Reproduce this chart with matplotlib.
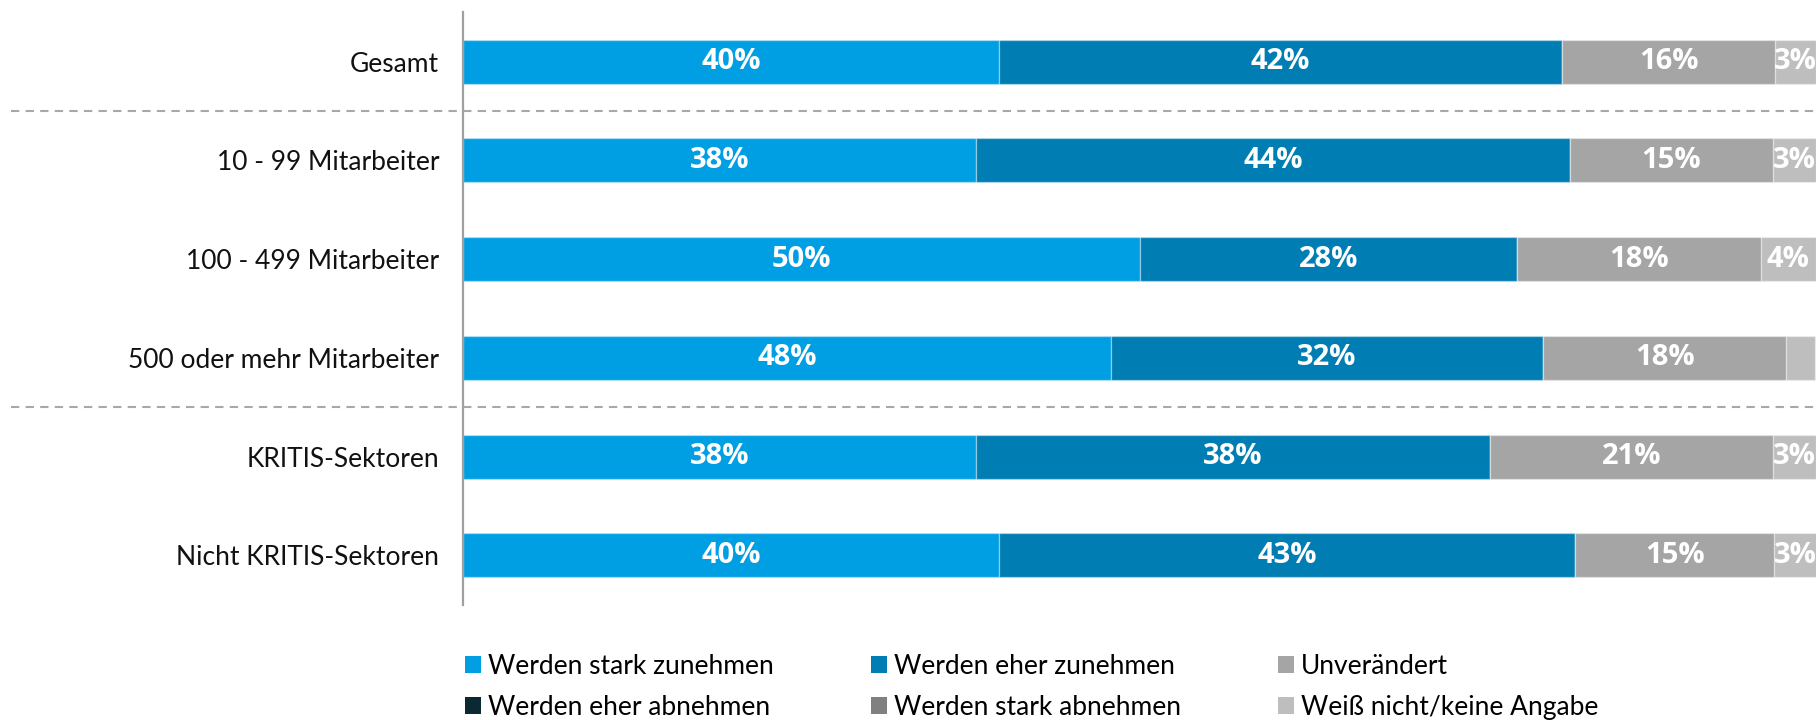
import matplotlib.pyplot as plt
import matplotlib.transforms as mtransforms
from matplotlib.patches import Patch
import numpy as np

plt.rcParams['font.family'] = ['Lato', 'DejaVu Sans']

#%% Data
categories = ["Gesamt", "10 - 99 Mitarbeiter", "100 - 499 Mitarbeiter",
              "500 oder mehr Mitarbeiter", "KRITIS-Sektoren", "Nicht KRITIS-Sektoren"]
stark_zu = [39.6, 37.9, 50.0, 47.9, 37.9, 39.6]
eher_zu = [41.6, 43.9, 27.9, 31.9, 38.0, 42.6]
eher_ab = [0, 0, 0, 0, 0, 0]
stark_ab = [0, 0, 0, 0, 0, 0]
unveraendert = [15.8, 15.0, 18.0, 18.0, 20.9, 14.7]
weiss_nicht = [3.0, 3.2, 4.1, 2.1, 3.2, 3.2]
shown_labels = [[40, 42, 16, 3], [38, 44, 15, 3], [50, 28, 18, 4],
                [48, 32, 18, None], [38, 38, 21, 3], [40, 43, 15, 3]]

series = [("Werden stark zunehmen", stark_zu, "#009FE3"),
          ("Werden eher zunehmen", eher_zu, "#007DB3"),
          ("Werden eher abnehmen", eher_ab, "#0B2833"),
          ("Werden stark abnehmen", stark_ab, "#808080"),
          ("Unverändert", unveraendert, "#A5A5A5"),
          ("Weiß nicht/keine Angabe", weiss_nicht, "#BEBEBE")]

#%% Plot
fig = plt.figure(figsize=(18.17, 7.2), dpi=100)
ax = fig.add_axes([0.2548, 0.160, 0.7447, 0.823])

y = np.arange(len(categories))
left = np.zeros(len(categories))
shown_series = [0, 1, 4, 5]
for name, vals, col in series:
    vals = np.array(vals, dtype=float)
    ax.barh(y, vals, left=left, height=0.445, color=col,
            edgecolor=(1, 1, 1, 0.35), linewidth=1)
    left = left + vals

# value labels
left = np.zeros(len(categories))
k = 0
for i, (name, vals, col) in enumerate(series):
    vals = np.array(vals, dtype=float)
    if i in shown_series:
        for j in range(len(categories)):
            lab = shown_labels[j][k]
            if lab is not None:
                ax.text(left[j] + vals[j] / 2, y[j], f"{lab}%", ha='center', va='center',
                        color='white', fontsize=21, fontweight='bold', clip_on=False,
                        family=['Open Sans', 'DejaVu Sans'])
        k += 1
    left = left + vals

ax.set_xlim(0, 100)
ax.set_ylim(5.5, -0.5)
ax.set_yticks(y)
ax.set_yticklabels(categories, fontsize=19, color='#111111')
ax.tick_params(axis='y', length=0, pad=17)
ax.set_xticks([])
for s in ['top', 'right', 'bottom']:
    ax.spines[s].set_visible(False)
ax.spines['left'].set_color('#A0A0A0')
ax.spines['left'].set_linewidth(1.6)

# group separators
trans = mtransforms.blended_transform_factory(fig.transFigure, ax.transData)
for sep in [0.5, 3.5]:
    ax.plot([0.006, 1.0], [sep, sep], transform=trans, color='#A8A8A8',
            linestyle=(0, (4, 3)), linewidth=1.5, clip_on=False)

# legend (column-major order for 3 columns)
order = [0, 2, 1, 3, 4, 5]
handles = [Patch(facecolor=series[i][2], label=series[i][0]) for i in order]
fig.legend(handles=handles, ncol=3, loc='lower left', bbox_to_anchor=(0.243, -0.033),
           frameon=False, fontsize=19, handlelength=0.6, handleheight=0.6,
           handletextpad=0.25, columnspacing=3.7, labelspacing=0.62)

plt.savefig("out.png", dpi=100)
